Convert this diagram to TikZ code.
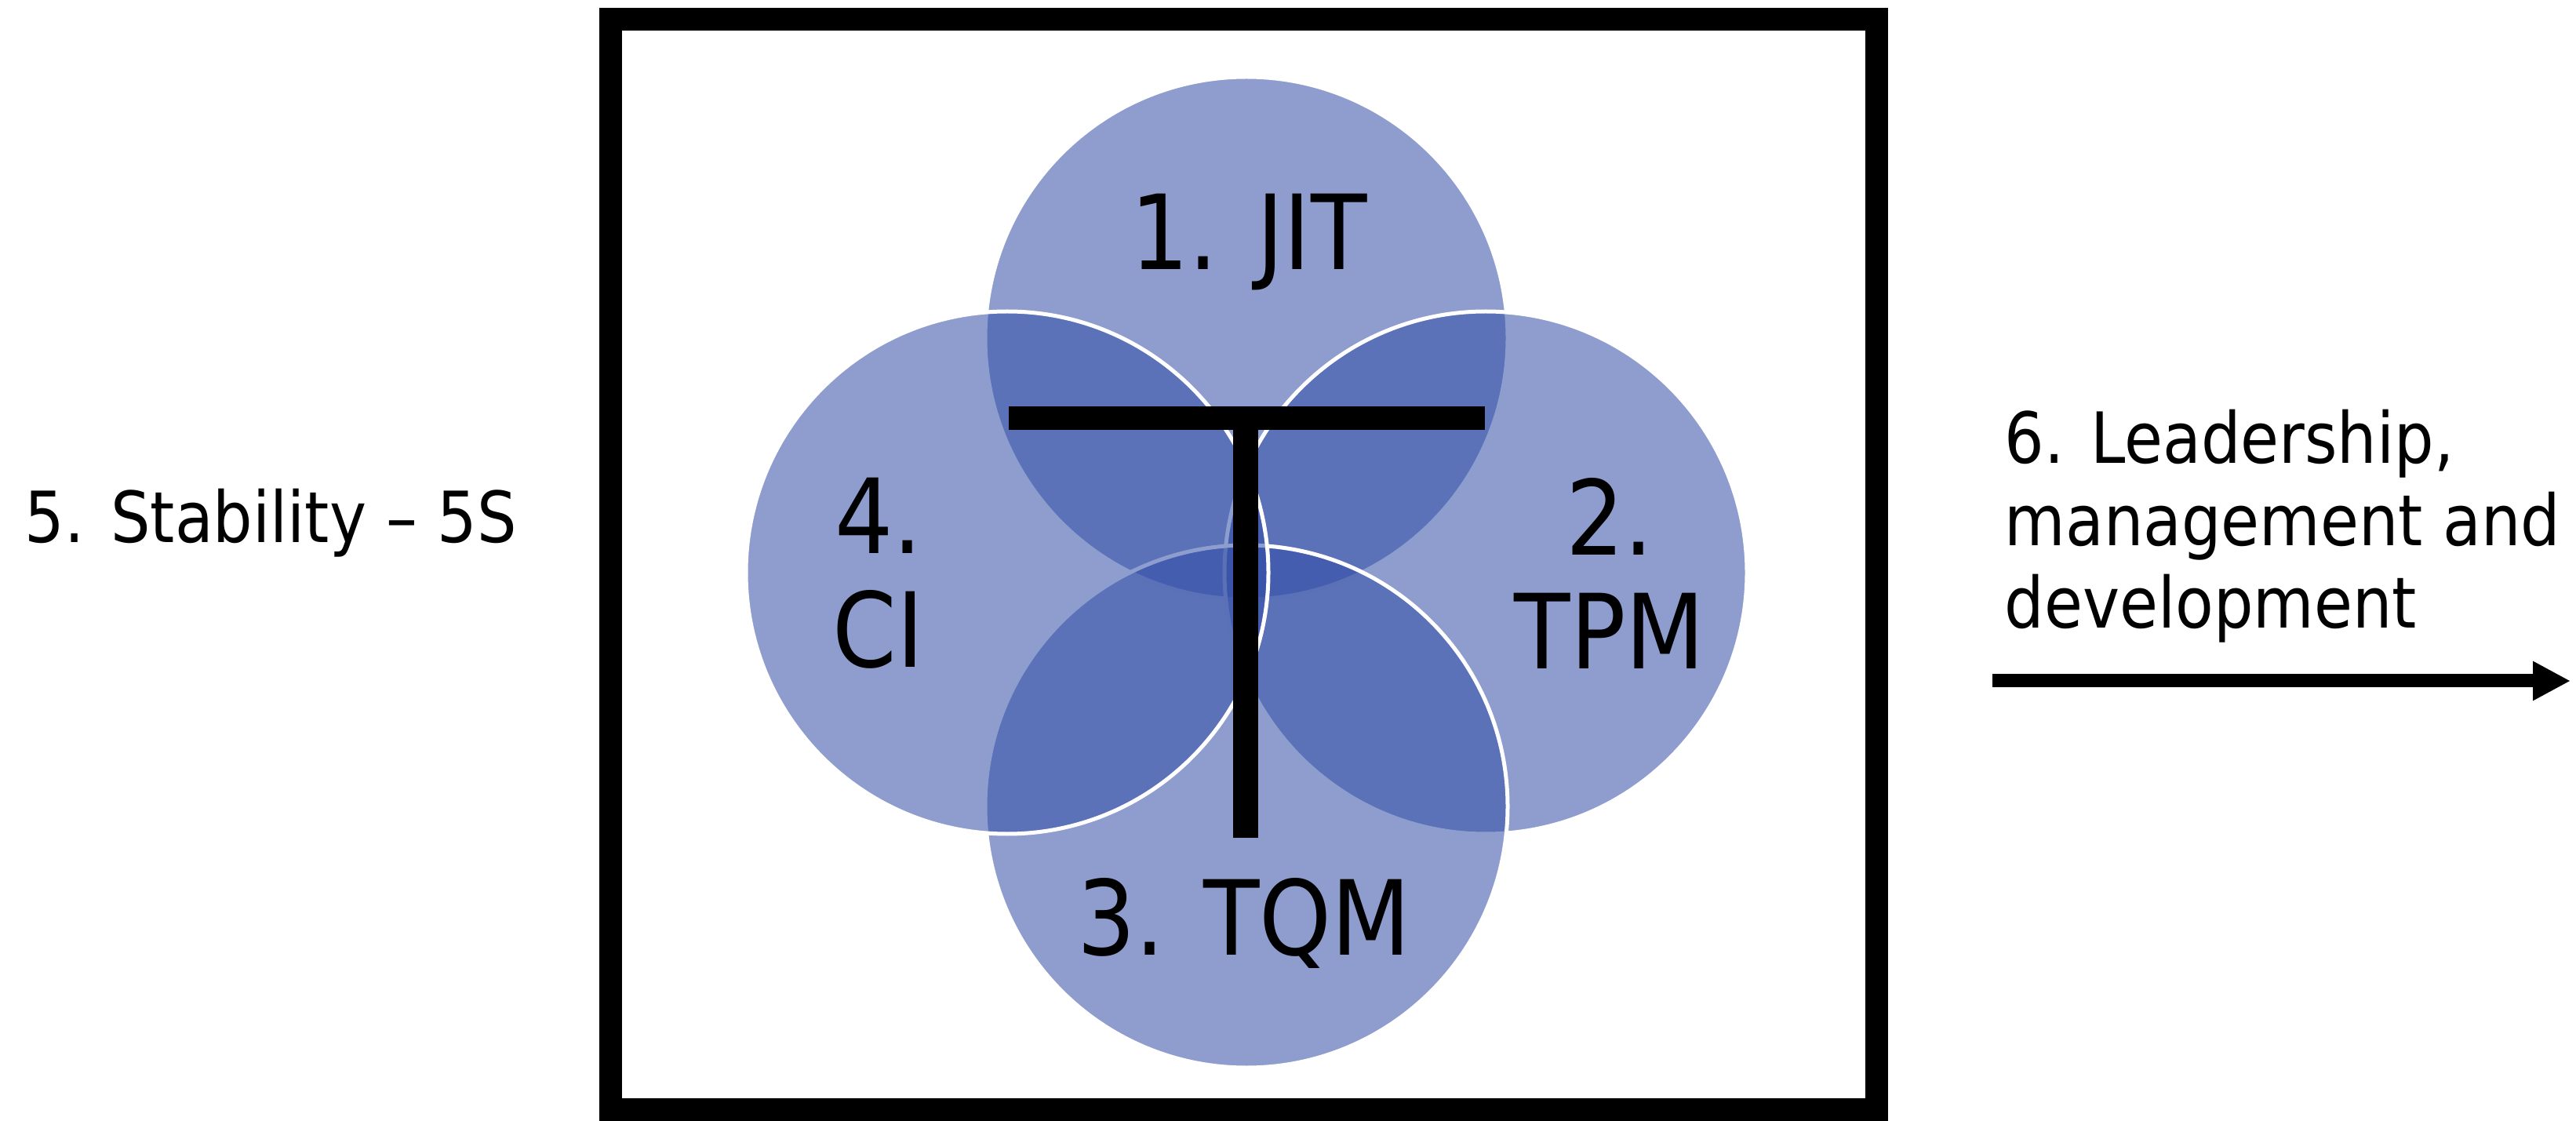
\documentclass[tikz,border=0pt]{standalone}
\usepackage{fontspec}
\usepackage{xcolor}
\usepackage{tikz}
\usetikzlibrary{arrows.meta,positioning,calc}
\newfontfamily\tahomaish[FakeStretch=0.885]{DejaVu Sans}
\definecolor{vennblue}{RGB}{49,77,166}

\begin{document}
\begin{tikzpicture}[
      venn/.style={circle, minimum size=6.66cm, inner sep=0pt, outer sep=0pt,
                   fill=vennblue, fill opacity=0.548, draw=white, line width=0.05cm},
      bigtxt/.style={inner sep=0pt, text=black,
                     font=\tahomaish\fontsize{37.6}{41.3}\selectfont},
      sidetxt/.style={inner sep=0pt, text=black,
                      font=\tahomaish\fontsize{25.6}{29.9}\selectfont},
      tbar/.style={draw=black, line width=0.30cm},
      bigarrow/.style={-{Triangle[length=0.48cm, width=0.47cm]}, line width=0.17cm, draw=black}
    ]
      \useasboundingbox (0,0) rectangle (32.84,14.28);

      % --- outer frame ---
      \node[draw=black, line width=0.29cm, minimum width=16.14cm, minimum height=13.89cm,
            inner sep=0pt, outer sep=0pt] (frame) at (15.85,7.085) {};

      % --- four overlapping circles, drawn clockwise from the top ---
      \coordinate (mid) at (15.89,6.98);
      \node[venn] (jit) at ([yshift=2.99cm]mid)  {};
      \node[venn] (tpm) at ([xshift=3.05cm]mid)  {};
      \node[venn] (tqm) at ([yshift=-2.98cm]mid) {};
      \node[venn] (ci)  at ([xshift=-3.05cm]mid) {};

      \node[bigtxt, anchor=base]   (jitlbl) at ([xshift=0.03cm, yshift=0.87cm]jit.center)   {1. JIT};
      \node[bigtxt, align=center]  (tpmlbl) at ([xshift=1.58cm, yshift=-0.01cm]tpm.center)  {2.\\TPM};
      \node[bigtxt, anchor=base]   (tqmlbl) at ([xshift=-0.03cm, yshift=-1.89cm]tqm.center) {3. TQM};
      \node[bigtxt, align=center]  (cilbl)  at ([xshift=-1.64cm, yshift=-0.01cm]ci.center)  {4.\\CI};

      % --- the T across the middle ---
      \coordinate (tleft)  at (12.86,8.95);
      \coordinate (tright) at (18.93,8.95);
      \coordinate (ttop)   at (15.88,8.95);
      \coordinate (tfoot)  at (15.88,3.60);
      \draw[tbar] (tleft) -- (tright);
      \draw[tbar, line width=0.32cm] (ttop) -- (tfoot);

      % --- texts outside the frame ---
      \node[sidetxt, anchor=base west] (stab) at (0.31,7.36) {5. Stability – 5S};
      \node[sidetxt, align=left, anchor=north west] (lead) at (25.55,9.07)
            {6. Leadership,\\management and\\development};

      \coordinate (arrtail) at (25.40,5.60);
      \coordinate (arrhead) at (32.77,5.60);
      \draw[bigarrow] (arrtail) -- (arrhead);
    \end{tikzpicture}
\end{document}
